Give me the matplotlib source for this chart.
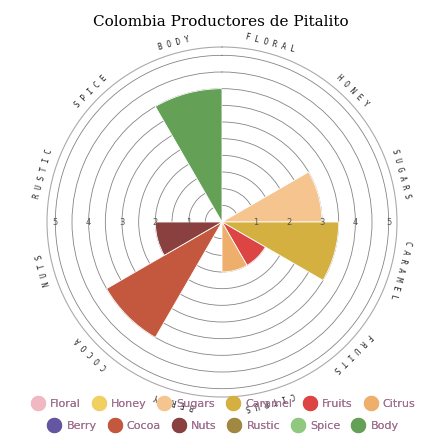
import matplotlib.pyplot as plt
import numpy as np

categories = ["Floral", "Honey", "Sugars", "Caramel", "Fruits", "Citrus",
              "Berry", "Cocoa", "Nuts", "Rustic", "Spice", "Body"]
values = [0, 0, 3.0, 3.5, 1.5, 1.5, 0, 4.0, 2.0, 0, 0, 4.0]
colors = ["#f0b8c0", "#f0d060", "#f6c48e", "#d4b040", "#dd4444", "#eeae6c",
          "#6655a0", "#c4583f", "#8b4040", "#a08840", "#90c880", "#64a055"]
ticks = [1, 2, 3, 4, 5]

fig = plt.figure(figsize=(4.42, 4.41), dpi=100)
ax = fig.add_axes([(222 - 175) / 442, 1 - (222 + 175) / 441, 350 / 442, 350 / 441],
                  projection="polar")
ax.set_theta_zero_location("N")
ax.set_theta_direction(-1)

width = 2 * np.pi / len(categories)
theta = np.arange(len(categories)) * width
ax.bar(theta, values, width=width, align="edge", color=colors, edgecolor="white",
       linewidth=0.6, zorder=2)

ax.set_ylim(0, 5.25)
ax.set_yticks(np.arange(0.5, 5.01, 0.5))
ax.set_yticklabels([])
ax.set_xticks([])
ax.grid(True, color="#333333", linewidth=0.6, alpha=0.6)
ax.spines["polar"].set_color("#aaaaaa")
ax.spines["polar"].set_linewidth(0.8)
ax.set_facecolor("none")

for t in ticks:
    for ang in (np.pi / 2, 3 * np.pi / 2):
        ax.text(ang, t, str(t), fontsize=6, color="#555555", ha="center", va="center",
                zorder=3)

for i, name in enumerate(categories):
    ang = theta[i] + width / 2
    deg = np.degrees(ang)
    ax.text(ang, 5.55, " ".join(name.upper()), fontsize=5.5, family="DejaVu Sans Mono",
            rotation=-deg, rotation_mode="anchor", ha="center", va="center",
            color="#222222", clip_on=False)

fig.text(0.5, 1 - 22 / 441, "Colombia Productores de Pitalito", ha="center", va="center",
         fontsize=11, family="DejaVu Serif")

rows = [categories[:6], categories[6:]]
for r, row in enumerate(rows):
    y = 1 - (404 + r * 22) / 441
    handles = [plt.Line2D([], [], marker="o", linestyle="", markersize=10,
                          color=colors[categories.index(n)]) for n in row]
    leg = fig.legend(handles, row, loc="center", bbox_to_anchor=(0.5, y), ncol=6,
                     frameon=False, fontsize=8, handletextpad=0.1, columnspacing=0.6,
                     labelcolor="#a07090")
    fig.add_artist(leg)

fig.savefig("out.png", dpi=100)
